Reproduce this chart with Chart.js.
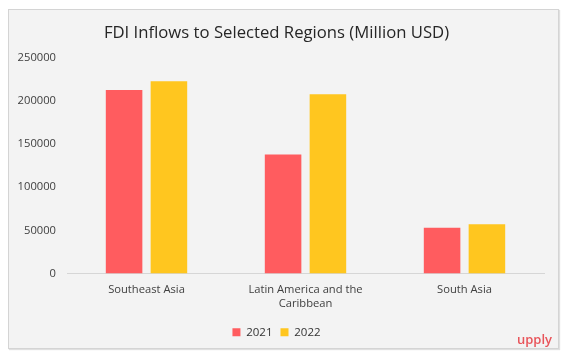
<!DOCTYPE html>
<html>
<head>
<meta charset="utf-8">
<script src="https://cdn.jsdelivr.net/npm/chart.js@4"></script>
<style>
  html, body { margin: 0; padding: 0; background: #fff; }
  #frame {
    position: absolute; left: 8px; top: 9px;
    width: 551px; height: 340px; box-sizing: border-box;
    background: #f3f3f3; border: 1px solid #d4d4d4;
    box-shadow: 1px 1px 1px rgba(0,0,0,0.12);
  }
  #chart { display: block; }
</style>
</head>
<body>
<div id="frame"><canvas id="chart" width="549" height="338"></canvas></div>
<script>
const regions = ['Southeast Asia', ['Latin America and the', 'Caribbean'], 'South Asia'];
const years = ['2021', '2022'];
const fdi2021 = [213000, 138000, 53000];
const fdi2022 = [223000, 208000, 57000];
const yTicks = [0, 50000, 100000, 150000, 200000, 250000];

const font = "'Open Sans', sans-serif";

// little red "upply" mark in the corner
const brand = {
    id: 'brand',
    afterDraw(chart) {
        const ctx = chart.ctx;
        ctx.save();
        ctx.font = "600 13px 'Open Sans', sans-serif";
        ctx.fillStyle = '#e8545a';
        ctx.textAlign = 'right';
        ctx.textBaseline = 'alphabetic';
        ctx.fillText('upply', 543, 334);
        ctx.restore();
    }
};

new Chart(document.getElementById('chart'), {
    type: 'bar',
    data: {
        labels: regions,
        datasets: [
            { label: years[0], data: fdi2021, backgroundColor: '#ff5c5f' },
            { label: years[1], data: fdi2022, backgroundColor: '#ffc61f' }
        ]
    },
    options: {
        responsive: false,
        animation: false,
        categoryPercentage: 0.564,
        barPercentage: 0.815,
        layout: { padding: { left: 0, right: 14, top: 0, bottom: 0 } },
        plugins: {
            title: {
                display: true,
                text: 'FDI Inflows to Selected Regions (Million USD)',
                color: '#262626',
                font: { family: font, size: 16.7, weight: 'normal' },
                padding: { top: 13, bottom: 15 }
            },
            legend: {
                position: 'bottom',
                labels: {
                    color: '#333',
                    font: { family: font, size: 11.5 },
                    boxWidth: 8, boxHeight: 8,
                    padding: 8
                }
            },
            tooltip: { enabled: false }
        },
        scales: {
            x: {
                afterFit(scale) { scale.height += 6; },
                grid: { display: false },
                border: { color: '#d6d6d6' },
                ticks: {
                    color: '#404040',
                    font: { family: font, size: 11.2, lineHeight: 1.3 },
                    padding: 1, maxRotation: 0, autoSkip: false
                }
            },
            y: {
                min: 0, max: 250000,
                afterFit(scale) { scale.width = 58; },
                afterBuildTicks(scale) { scale.ticks = yTicks.map(v => ({ value: v })); },
                grid: { display: false, drawTicks: false },
                border: { display: false },
                ticks: {
                    color: '#404040',
                    font: { family: font, size: 11.2 },
                    padding: 11,
                    callback: v => String(v)
                }
            }
        }
    },
    plugins: [brand]
});
</script>
</body>
</html>
